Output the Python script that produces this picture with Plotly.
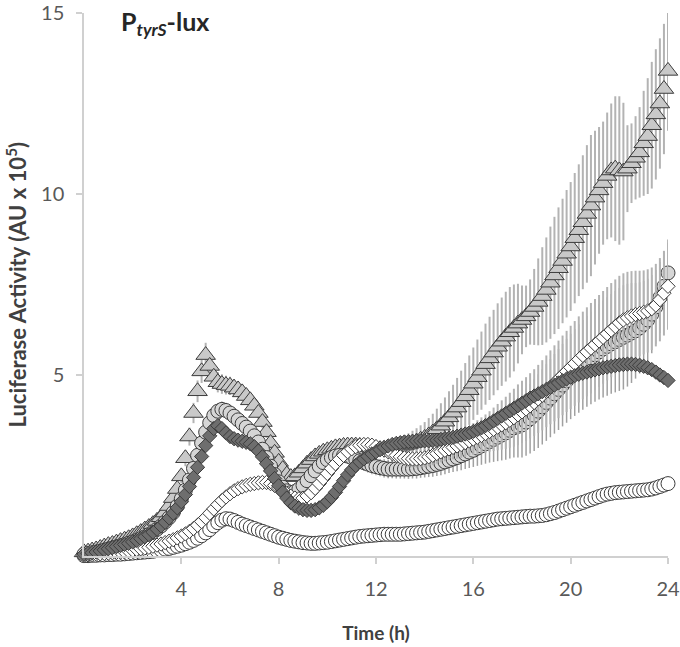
import plotly.graph_objects as go

# time grid: one reading every 10 minutes, 0-24 h
time_h = [round(i / 6, 4) for i in range(145)]

tri = [0.10,0.12,0.15,0.18,0.22,0.26,
       0.30,0.33,0.37,0.41,0.45,0.49,
       0.54,0.60,0.66,0.73,0.80,0.88,
       0.97,1.07,1.20,1.38,1.60,1.85,
       2.20,2.70,3.30,3.95,4.55,5.10,
       5.55,5.25,4.95,4.80,4.75,4.72,
       4.70,4.65,4.60,4.52,4.42,4.30,
       4.15,3.95,3.70,3.42,3.12,2.85,
       2.60,2.40,2.25,2.18,2.20,2.30,
       2.42,2.55,2.65,2.75,2.82,2.88,
       2.92,2.96,3.00,3.02,3.04,3.05,
       3.05,3.05,3.04,3.02,3.00,2.98,
       2.96,2.95,2.95,2.96,2.98,3.00,
       3.02,3.05,3.08,3.12,3.16,3.21,
       3.26,3.33,3.41,3.50,3.60,3.71,
       3.83,3.96,4.10,4.25,4.41,4.58,
       4.76,4.94,5.12,5.30,5.46,5.62,
       5.78,5.92,6.06,6.18,6.30,6.42,
       6.52,6.62,6.74,6.88,7.02,7.18,
       7.35,7.55,7.75,7.95,8.15,8.35,
       8.55,8.78,9.00,9.22,9.45,9.68,
       9.90,10.10,10.30,10.50,10.65,10.70,
       10.65,10.62,10.70,10.85,11.00,11.15,
       11.40,11.60,11.90,12.20,12.50,12.90,
       13.40]

tri_err = [0.02,0.02,0.03,0.03,0.03,0.04,
           0.04,0.04,0.05,0.05,0.05,0.06,
           0.06,0.07,0.07,0.08,0.08,0.09,
           0.10,0.11,0.12,0.13,0.15,0.17,
           0.19,0.22,0.25,0.28,0.30,0.32,
           0.34,0.32,0.30,0.28,0.27,0.26,
           0.25,0.24,0.23,0.22,0.21,0.20,
           0.19,0.18,0.17,0.16,0.15,0.14,
           0.13,0.12,0.12,0.11,0.11,0.11,
           0.11,0.12,0.12,0.13,0.13,0.14,
           0.14,0.15,0.15,0.16,0.16,0.17,
           0.17,0.18,0.18,0.19,0.19,0.20,
           0.20,0.21,0.22,0.23,0.24,0.25,
           0.27,0.29,0.31,0.34,0.37,0.40,
           0.44,0.48,0.52,0.57,0.62,0.67,
           0.72,0.77,0.82,0.87,0.92,0.96,
           1.00,1.04,1.08,1.12,1.15,1.18,
           1.20,1.22,1.24,1.25,1.20,1.10,
           0.95,0.85,0.90,1.05,1.20,1.35,
           1.45,1.55,1.62,1.68,1.72,1.76,
           1.78,1.80,1.82,1.85,1.90,1.95,
           1.85,1.75,1.70,1.75,1.85,2.00,
           2.05,1.90,1.20,1.10,1.15,1.25,
           1.45,1.60,1.75,1.80,1.80,1.80,
           1.65]

lc = [0.05,0.07,0.09,0.11,0.13,0.16,
      0.19,0.22,0.25,0.28,0.31,0.35,
      0.39,0.43,0.48,0.53,0.59,0.66,
      0.74,0.83,0.94,1.06,1.20,1.38,
      1.58,1.82,2.10,2.42,2.78,3.12,
      3.42,3.68,3.88,4.00,4.05,4.02,
      3.95,3.86,3.76,3.66,3.56,3.45,
      3.32,3.15,2.95,2.72,2.48,2.25,
      2.05,1.90,1.80,1.75,1.78,1.85,
      1.95,2.08,2.22,2.35,2.48,2.58,
      2.66,2.72,2.76,2.78,2.78,2.76,
      2.72,2.68,2.63,2.58,2.54,2.50,
      2.47,2.44,2.42,2.40,2.40,2.40,
      2.40,2.40,2.40,2.41,2.42,2.44,
      2.46,2.48,2.50,2.53,2.56,2.60,
      2.64,2.68,2.72,2.77,2.82,2.87,
      2.92,2.98,3.04,3.10,3.16,3.22,
      3.28,3.34,3.40,3.47,3.54,3.58,
      3.62,3.70,3.79,3.89,4.00,4.12,
      4.24,4.36,4.48,4.60,4.72,4.84,
      4.96,5.07,5.18,5.28,5.38,5.47,
      5.56,5.64,5.72,5.79,5.86,5.92,
      5.98,6.04,6.10,6.16,6.22,6.30,
      6.40,6.52,6.68,6.88,7.14,7.45,
      7.82]

lc_err = [0.01,0.01,0.01,0.02,0.02,0.02,
          0.02,0.02,0.03,0.03,0.03,0.03,
          0.04,0.04,0.04,0.05,0.05,0.06,
          0.06,0.07,0.08,0.09,0.10,0.11,
          0.12,0.13,0.15,0.16,0.18,0.19,
          0.20,0.21,0.22,0.22,0.22,0.21,
          0.21,0.20,0.20,0.19,0.19,0.18,
          0.18,0.17,0.17,0.16,0.16,0.15,
          0.15,0.15,0.15,0.15,0.15,0.16,
          0.16,0.16,0.17,0.17,0.18,0.18,
          0.19,0.19,0.20,0.20,0.21,0.21,
          0.22,0.22,0.22,0.23,0.23,0.24,
          0.24,0.24,0.25,0.25,0.25,0.26,
          0.26,0.26,0.27,0.27,0.28,0.28,
          0.29,0.30,0.31,0.32,0.33,0.34,
          0.35,0.36,0.38,0.40,0.42,0.44,
          0.46,0.49,0.52,0.55,0.58,0.62,
          0.66,0.70,0.74,0.78,0.82,0.86,
          0.90,0.93,0.96,0.99,1.02,1.04,
          1.06,1.08,1.10,1.12,1.14,1.16,
          1.18,1.20,1.22,1.24,1.26,1.28,
          1.30,1.32,1.34,1.36,1.38,1.40,
          1.42,1.44,1.42,1.38,1.32,1.26,
          1.20,1.14,1.08,1.02,0.98,0.94,
          0.92]

wd = [0.02,0.03,0.04,0.05,0.06,0.07,
      0.08,0.09,0.10,0.11,0.12,0.14,
      0.16,0.18,0.20,0.22,0.24,0.27,
      0.30,0.33,0.37,0.41,0.45,0.50,
      0.55,0.61,0.68,0.76,0.85,0.95,
      1.06,1.18,1.30,1.42,1.53,1.63,
      1.72,1.80,1.86,1.91,1.95,1.98,
      2.00,2.02,2.03,2.03,2.00,1.95,
      1.88,1.80,1.72,1.65,1.60,1.58,
      1.60,1.66,1.75,1.87,2.00,2.14,
      2.28,2.42,2.55,2.67,2.78,2.88,
      2.96,3.02,3.06,3.08,3.08,3.06,
      3.02,2.98,2.93,2.88,2.83,2.78,
      2.74,2.71,2.69,2.68,2.68,2.69,
      2.71,2.74,2.78,2.83,2.88,2.92,
      2.96,3.00,3.04,3.08,3.13,3.18,
      3.23,3.28,3.33,3.38,3.44,3.50,
      3.56,3.62,3.68,3.75,3.82,3.90,
      3.98,4.06,4.15,4.24,4.34,4.44,
      4.55,4.66,4.77,4.88,4.99,5.10,
      5.21,5.32,5.43,5.54,5.64,5.74,
      5.84,5.94,6.04,6.14,6.24,6.34,
      6.44,6.52,6.58,6.63,6.67,6.70,
      6.73,6.77,6.83,6.93,7.08,7.26,
      7.45]

wd_err = [0.01,0.01,0.01,0.01,0.02,0.02,
          0.02,0.02,0.02,0.02,0.03,0.03,
          0.03,0.03,0.03,0.04,0.04,0.04,
          0.04,0.05,0.05,0.05,0.06,0.06,
          0.07,0.07,0.08,0.08,0.09,0.10,
          0.10,0.11,0.12,0.12,0.13,0.13,
          0.14,0.14,0.14,0.15,0.15,0.15,
          0.15,0.15,0.15,0.15,0.15,0.15,
          0.14,0.14,0.14,0.14,0.14,0.14,
          0.14,0.14,0.15,0.15,0.15,0.16,
          0.16,0.16,0.17,0.17,0.17,0.18,
          0.18,0.18,0.19,0.19,0.19,0.20,
          0.20,0.20,0.21,0.21,0.21,0.22,
          0.22,0.22,0.23,0.23,0.24,0.24,
          0.25,0.26,0.27,0.28,0.29,0.30,
          0.31,0.33,0.35,0.37,0.39,0.41,
          0.44,0.47,0.50,0.53,0.56,0.60,
          0.64,0.68,0.72,0.76,0.80,0.84,
          0.86,0.88,0.90,0.92,0.94,0.97,
          0.99,1.02,1.05,1.07,1.10,1.12,
          1.15,1.17,1.19,1.21,1.23,1.25,
          1.26,1.27,1.28,1.29,1.30,1.30,
          1.30,1.29,1.27,1.24,1.21,1.18,
          1.16,1.15,1.14,1.14,1.15,1.17,
          1.20]

dd = [0.05,0.07,0.09,0.11,0.14,0.17,
      0.20,0.23,0.26,0.29,0.32,0.35,
      0.39,0.43,0.48,0.53,0.59,0.66,
      0.74,0.83,0.93,1.05,1.18,1.33,
      1.50,1.70,1.92,2.17,2.45,2.75,
      3.05,3.32,3.52,3.60,3.52,3.40,
      3.30,3.24,3.20,3.17,3.14,3.10,
      3.02,2.90,2.74,2.55,2.35,2.14,
      1.94,1.76,1.60,1.47,1.38,1.32,
      1.28,1.26,1.26,1.28,1.33,1.40,
      1.50,1.62,1.76,1.92,2.08,2.24,
      2.38,2.50,2.60,2.68,2.75,2.82,
      2.88,2.94,3.00,3.04,3.08,3.11,
      3.13,3.15,3.16,3.17,3.18,3.18,
      3.18,3.18,3.19,3.20,3.22,3.24,
      3.26,3.28,3.31,3.34,3.37,3.40,
      3.44,3.49,3.54,3.60,3.66,3.73,
      3.80,3.87,3.94,4.01,4.08,4.15,
      4.22,4.29,4.36,4.42,4.48,4.54,
      4.60,4.66,4.72,4.78,4.84,4.89,
      4.94,4.98,5.02,5.05,5.08,5.11,
      5.14,5.17,5.20,5.22,5.24,5.26,
      5.28,5.29,5.30,5.30,5.29,5.27,
      5.24,5.20,5.15,5.08,5.00,4.93,
      4.85]

wc = [0.01,0.01,0.02,0.02,0.03,0.03,
      0.04,0.04,0.05,0.05,0.06,0.07,
      0.08,0.09,0.10,0.11,0.12,0.13,
      0.15,0.17,0.19,0.21,0.24,0.27,
      0.30,0.34,0.38,0.43,0.49,0.56,
      0.64,0.73,0.83,0.92,0.99,1.03,
      1.02,0.98,0.93,0.88,0.84,0.80,
      0.76,0.72,0.68,0.64,0.60,0.56,
      0.52,0.49,0.46,0.43,0.41,0.39,
      0.37,0.36,0.35,0.35,0.36,0.37,
      0.38,0.40,0.42,0.44,0.46,0.48,
      0.50,0.52,0.54,0.55,0.56,0.57,
      0.58,0.59,0.60,0.60,0.60,0.60,
      0.60,0.61,0.62,0.63,0.64,0.65,
      0.66,0.68,0.70,0.72,0.74,0.76,
      0.78,0.80,0.82,0.84,0.86,0.88,
      0.90,0.92,0.94,0.96,0.98,1.00,
      1.02,1.03,1.04,1.05,1.06,1.07,
      1.08,1.09,1.10,1.10,1.11,1.12,
      1.14,1.17,1.20,1.24,1.28,1.32,
      1.36,1.40,1.44,1.48,1.52,1.56,
      1.60,1.64,1.68,1.71,1.73,1.75,
      1.76,1.77,1.78,1.79,1.80,1.81,
      1.82,1.83,1.85,1.88,1.92,1.96,
      2.00]

x_ticks = [4, 8, 12, 16, 20, 24]
y_ticks = [5, 10, 15]

FONT = "Lato, 'Open Sans', sans-serif"
OUTLINE = "#3c3c3c"

fig = go.Figure()

def add(y, symbol, size, fill, err=None, err_color="#b0b0b0", err_w=2):
    kw = {}
    if err is not None:
        kw["error_y"] = dict(type="data", array=err, visible=True,
                             color=err_color, thickness=err_w, width=0)
    fig.add_trace(go.Scatter(
        x=time_h, y=y, mode="markers",
        marker=dict(symbol=symbol, size=size, color=fill,
                    line=dict(color=OUTLINE, width=1)),
        cliponaxis=False, showlegend=False, **kw))

add(wc, "circle", 14, "#ffffff")
add(tri, "triangle-up", 17, "#c9c9c9", tri_err, "#b3b3b3", 2)
add(lc, "circle", 14, "#d6d6d6", lc_err, "#a0a0a0", 1.5)
add(wd, "diamond", 11, "#ffffff", wd_err, "#b3b3b3", 2)
add(dd, "diamond", 11, "#6e6e6e")

axis_common = dict(showgrid=False, zeroline=False, showline=True,
                   linecolor="#d0d0d0", linewidth=1.5, automargin=False,
                   ticks="outside", ticklen=6, tickcolor="#d0d0d0",
                   tickwidth=1.5, ticklabeloverflow="allow",
                   tickfont=dict(family=FONT, size=20, color="#595959"))

fig.update_layout(
    width=680, height=647,
    margin=dict(l=84, r=12, t=13, b=91),
    plot_bgcolor="white", paper_bgcolor="white",
    xaxis=dict(range=[0, 24], tickvals=x_ticks, ticklabelstandoff=8,
               title=dict(text="<b>Time (h)</b>", standoff=28,
                          font=dict(family=FONT, size=19, color="#404040")),
               **axis_common),
    yaxis=dict(range=[0, 15], tickvals=y_ticks, ticklabelstandoff=8,
               **axis_common),
    annotations=[
        dict(text="<b>P<sub><i>tyrS</i></sub>-lux</b>",
             xref="paper", yref="paper", x=0.060, y=0.982,
             xanchor="left", yanchor="middle", showarrow=False,
             font=dict(family=FONT, size=25, color="#262626")),
        dict(text="<b>Luciferase Activity (AU x 10<sup>5</sup>)</b>",
             xref="paper", yref="paper", x=-0.1164, y=0.5,
             xanchor="center", yanchor="middle", textangle=-90,
             showarrow=False,
             font=dict(family=FONT, size=22, color="#404040")),
    ],
)

fig.write_html("out.html", config={"displayModeBar": False},
               post_script="document.body.style.margin='0px';")
